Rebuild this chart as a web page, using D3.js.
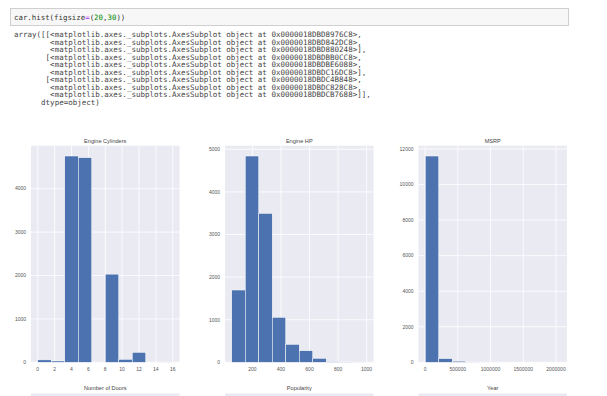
<!DOCTYPE html>
<html><head><meta charset="utf-8">
<script src="https://cdn.jsdelivr.net/npm/d3@7"></script>
<style>
html,body{margin:0;padding:0;background:#fff;}
svg{display:block;}
</style></head>
<body>
<svg id="c" width="607" height="396"></svg>
<script>
// ---- data ----
const codeLine = "car.hist(figsize=(20,30))";
const outputLines = [
"array([[<matplotlib.axes._subplots.AxesSubplot object at 0x0000018DBD8976C8>,",
"        <matplotlib.axes._subplots.AxesSubplot object at 0x0000018DBD842DC8>,",
"        <matplotlib.axes._subplots.AxesSubplot object at 0x0000018DBD880248>],",
"       [<matplotlib.axes._subplots.AxesSubplot object at 0x0000018DBDBB0CC8>,",
"        <matplotlib.axes._subplots.AxesSubplot object at 0x0000018DBDBE6088>,",
"        <matplotlib.axes._subplots.AxesSubplot object at 0x0000018DBDC16DC8>],",
"       [<matplotlib.axes._subplots.AxesSubplot object at 0x0000018DBDC4B848>,",
"        <matplotlib.axes._subplots.AxesSubplot object at 0x0000018DBDC828C8>,",
"        <matplotlib.axes._subplots.AxesSubplot object at 0x0000018DBDCB7688>]],",
"      dtype=object)"
];
const titles = ["Engine Cylinders", "Engine HP", "MSRP"];
const bottomTitles = ["Number of Doors", "Popularity", "Year"];
const ranges = [[0, 16], [55, 1001], [2000, 2065902]];
const cylCounts = [56, 30, 4752, 4714, 0, 2031, 68, 230, 0, 3];
const hpCounts = [1697, 4843, 3497, 1056, 422, 272, 94, 12, 6, 3];
const msrpCounts = [11606, 208, 62, 10, 5, 3, 2, 1, 1, 2];
const yTicks = [[0, 1000, 2000, 3000, 4000], [0, 1000, 2000, 3000, 4000, 5000], [0, 2000, 4000, 6000, 8000, 10000, 12000]];
const xTicks = [[0, 2, 4, 6, 8, 10, 12, 14, 16], [200, 400, 600, 800, 1000], [0, 500000, 1000000, 1500000, 2000000]];
const counts = [cylCounts, hpCounts, msrpCounts];

const svg = d3.select("#c");

// ---- code cell ----
svg.append("rect").attr("x", 10.5).attr("y", 8.5).attr("width", 558).attr("height", 17)
  .attr("fill", "#f7f7f7").attr("stroke", "#cfcfcf");
const ct = svg.append("text").attr("x", 14).attr("y", 19.6)
  .attr("font-family", "DejaVu Sans Mono, monospace").attr("font-size", 7.4)
  .attr("fill", "#333").style("white-space", "pre");
const parts = [["car.hist(figsize", "#333"], ["=", "#aa22ff"], ["(", "#333"], ["20", "#008800"], [",", "#333"], ["30", "#008800"], ["))", "#333"]];
parts.forEach(p => ct.append("tspan").attr("fill", p[1]).text(p[0]));

svg.append("g").selectAll("text").data(outputLines).join("text")
  .attr("x", 14).attr("y", (d, i) => 37.3 + i * 7.51)
  .attr("font-family", "DejaVu Sans Mono, monospace").attr("font-size", 7.5)
  .attr("fill", "#444").style("white-space", "pre").text(d => d);

// ---- histograms ----
const lefts = [31, 225, 418.5];
const pw = 148.5, plotTop = 145.7, plotBottom = 362.3;
const font = "Liberation Sans, Arial, sans-serif";

counts.forEach((cnt, k) => {
  const [lo, hi] = ranges[k];
  const n = cnt.length, w = (hi - lo) / n;
  const pad = (hi - lo) * 0.05;
  const x = d3.scaleLinear().domain([lo - pad, hi + pad]).range([lefts[k], lefts[k] + pw]);
  const ymax = d3.max(cnt) * 1.05;
  const y = d3.scaleLinear().domain([0, ymax]).range([plotBottom, plotTop]);
  const g = svg.append("g");
  g.append("rect").attr("x", lefts[k]).attr("y", plotTop).attr("width", pw).attr("height", plotBottom - plotTop).attr("fill", "#eaeaf2");
  // grid
  g.append("g").selectAll("line").data(xTicks[k]).join("line")
    .attr("x1", d => x(d)).attr("x2", d => x(d)).attr("y1", plotTop).attr("y2", plotBottom)
    .attr("stroke", "#fff").attr("stroke-width", 0.8);
  g.append("g").selectAll("line").data(yTicks[k]).join("line")
    .attr("x1", lefts[k]).attr("x2", lefts[k] + pw).attr("y1", d => y(d)).attr("y2", d => y(d))
    .attr("stroke", "#fff").attr("stroke-width", 0.8);
  // bars
  g.append("g").selectAll("rect").data(cnt).join("rect")
    .attr("x", (d, i) => x(lo + i * w)).attr("width", (d, i) => x(lo + (i + 1) * w) - x(lo + i * w))
    .attr("y", d => y(d)).attr("height", d => plotBottom - y(d))
    .attr("fill", "#4c72b0").attr("stroke", "#fff").attr("stroke-width", 0.5);
  // tick labels
  g.append("g").selectAll("text").data(yTicks[k]).join("text")
    .attr("x", lefts[k] - 5).attr("y", d => y(d) + 1.8).attr("text-anchor", "end")
    .attr("font-family", font).attr("font-size", 5).attr("fill", "#555").text(d => d);
  g.append("g").selectAll("text").data(xTicks[k]).join("text")
    .attr("x", d => x(d)).attr("y", plotBottom + 8.5).attr("text-anchor", "middle")
    .attr("font-family", font).attr("font-size", 5).attr("fill", "#555").text(d => d);
  // title
  g.append("text").attr("x", lefts[k] + pw / 2).attr("y", plotTop - 3)
    .attr("text-anchor", "middle").attr("font-family", font).attr("font-size", 5.6)
    .attr("fill", "#444").text(titles[k]);
  // next row
  g.append("text").attr("x", lefts[k] + pw / 2).attr("y", 389.8)
    .attr("text-anchor", "middle").attr("font-family", font).attr("font-size", 5.6)
    .attr("fill", "#444").text(bottomTitles[k]);
  g.append("rect").attr("x", lefts[k]).attr("y", 393.5).attr("width", pw).attr("height", 10).attr("fill", "#eaeaf2");
});
</script>
</body></html>
